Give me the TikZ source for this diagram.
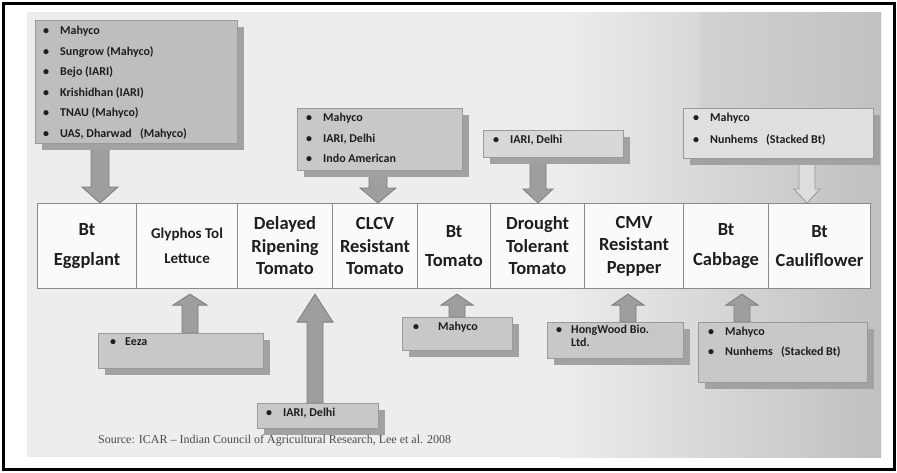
\documentclass[tikz,border=0pt]{standalone}
\usepackage{fontspec}
\setmainfont{Carlito}
\newfontfamily\srcfont{Liberation Serif}
\usetikzlibrary{shadows,calc}
\definecolor{panel}{HTML}{EDEDED}
\definecolor{boxfill}{HTML}{C8C8C8}
\definecolor{boxlight}{HTML}{D8D8D8}
\definecolor{boxedge}{HTML}{9A9A9A}
\definecolor{shadowc}{HTML}{A2A2A2}
\definecolor{cellfill}{HTML}{FAFAFA}
\definecolor{celledge}{HTML}{8A8A8A}
\definecolor{arrfill}{HTML}{9E9E9E}
\definecolor{arredge}{HTML}{7C7C7C}
\definecolor{txt}{HTML}{1E1E1E}
\pgfdeclarelayer{bg}
\pgfdeclarelayer{arr}
\pgfsetlayers{bg,arr,main}
\newcommand\itm{\makebox[17pt][l]{\textbullet}}
\tikzset{
  cellbox/.style={draw=celledge, line width=1.1pt, fill=cellfill, anchor=north west,
    minimum height=85pt, inner sep=0pt, align=center, text=txt,
    font=\bfseries\fontsize{18.5}{22.5}\selectfont},
  gbox/.style={draw=boxedge, line width=0.8pt, fill=boxfill, anchor=north west, inner sep=0pt,
    drop shadow={shadow xshift=7pt, shadow yshift=-7pt, fill=shadowc, opacity=1}},
  itemtext/.style={anchor=north west, inner sep=0pt, align=left, text=txt,
    font=\bfseries\fontsize{12}{20.5}\selectfont},
  arrowst/.style={fill=arrfill, draw=arredge, line width=0.8pt, line join=miter},
  dnarrow/.style n args={3}{to path={let \p1=(\tikztostart), \p2=(\tikztotarget) in
    (\x1-#1,\y1) -- (\x1-#1,\y2+#3) -- (\x1-#2,\y2+#3) -- (\x1,\y2) -- (\x1+#2,\y2+#3)
    -- (\x1+#1,\y2+#3) -- (\x1+#1,\y1) -- cycle}},
  uparrow/.style n args={3}{to path={let \p1=(\tikztostart), \p2=(\tikztotarget) in
    (\x1-#1,\y1) -- (\x1-#1,\y2-#3) -- (\x1-#2,\y2-#3) -- (\x1,\y2) -- (\x1+#2,\y2-#3)
    -- (\x1+#1,\y2-#3) -- (\x1+#1,\y1) -- cycle}},
}
\begin{document}
\begin{tikzpicture}[x=1pt,y=-1pt]
\useasboundingbox (0,0) rectangle (897,472);
\begin{pgfonlayer}{bg}
\fill[white] (0,0) rectangle (897,472);
\fill[panel] (27,12) rectangle (881,457);
\shade[left color=panel, right color=gray!50] (560,12) rectangle (881,457);
\shade[top color=gray!45, bottom color=gray!45, opacity=0.35] (700,12) rectangle (881,120);
\end{pgfonlayer}
\draw[line width=3pt] (3,3) rectangle (894,469);

% main row of cells
\node[cellbox, minimum width=99pt]  (c1) at (37,203)  {Bt\\[7pt]Eggplant};
\node[cellbox, minimum width=101pt, font=\bfseries\fontsize{15}{25}\selectfont] (c2) at (136,203) {Glyphos Tol\\Lettuce};
\node[cellbox, minimum width=95pt]  (c3) at (237,203) {Delayed\\Ripening\\Tomato};
\node[cellbox, minimum width=85pt]  (c4) at (332,203) {CLCV\\Resistant\\Tomato};
\node[cellbox, minimum width=73pt]  (c5) at (417,203) {Bt\\[7pt]Tomato};
\node[cellbox, minimum width=94pt]  (c6) at (490,203) {Drought\\Tolerant\\Tomato};
\node[cellbox, minimum width=99pt]  (c7) at (584,203) {CMV\\Resistant\\Pepper};
\node[cellbox, minimum width=85pt]  (c8) at (683,203) {Bt\\[7pt]Cabbage};
\node[cellbox, minimum width=102pt] (c9) at (768,203) {Bt\\[7pt]Cauliflower};

% developer boxes above
\node[gbox, minimum width=202pt, minimum height=123pt, fill=boxfill!95!black] (t1) at (35,20) {};
\node[itemtext] at ($(t1.north west)+(8,6)$) {\itm Mahyco\\\itm Sungrow (Mahyco)\\\itm Bejo (IARI)\\\itm Krishidhan (IARI)\\\itm TNAU (Mahyco)\\\itm UAS, Dharwad~~~(Mahyco)};
\node[gbox, minimum width=165pt, minimum height=62pt] (t2) at (297,108) {};
\node[itemtext] at ($(t2.north west)+(9,5)$) {\itm Mahyco\\\itm IARI, Delhi\\\itm Indo American};
\node[gbox, minimum width=140pt, minimum height=27pt, fill=boxlight] (t3) at (483,130) {};
\node[itemtext] at ($(t3.north west)+(10,5)$) {\itm IARI, Delhi};
\node[gbox, minimum width=190pt, minimum height=50pt, fill=boxlight!80!white] (t4) at (683,108) {};
\node[itemtext, font=\bfseries\fontsize{12}{22}\selectfont] at ($(t4.north west)+(10,5)$) {\itm Mahyco\\\itm Nunhems~~~(Stacked Bt)};

% developer boxes below
\node[gbox, minimum width=165pt, minimum height=35pt] (b1) at (98,333) {};
\node[itemtext] at ($(b1.north west)+(12,5)$) {\makebox[15pt][l]{\textbullet}Eeza};
\node[gbox, minimum width=121pt, minimum height=25pt] (b2) at (257,403) {};
\node[itemtext] at ($(b2.north west)+(9,5)$) {\itm IARI, Delhi};
\node[gbox, minimum width=110pt, minimum height=33pt] (b3) at (402,317) {};
\node[itemtext] at ($(b3.north west)+(11,5)$) {\makebox[25pt][l]{\textbullet}Mahyco};
\node[gbox, minimum width=136pt, minimum height=36pt] (b4) at (547,322) {};
\node[itemtext, font=\bfseries\fontsize{12}{13}\selectfont] at ($(b4.north west)+(9,3)$) {\makebox[15pt][l]{\textbullet}HongWood Bio.\\\hspace*{15pt}Ltd.};
\node[gbox, minimum width=169pt, minimum height=60pt] (b5) at (698,322) {};
\node[itemtext, font=\bfseries\fontsize{12}{20}\selectfont] at ($(b5.north west)+(10,5)$) {\itm Mahyco\\\itm Nunhems~~~(Stacked Bt)};

% arrow axes
\coordinate (ax1) at (100,0);
\coordinate (ax2) at (378,0);
\coordinate (ax3) at (538,0);
\coordinate (ax4) at (807,0);
\coordinate (ax5) at (190,0);
\coordinate (ax6) at (315,0);
\coordinate (ax7) at (457,0);
\coordinate (ax8) at (628,0);
\coordinate (ax9) at (742,0);

\begin{pgfonlayer}{arr}
\draw[arrowst, dnarrow={9pt}{18pt}{16pt}] (t1.south -| ax1) to (c1.north -| ax1);
\draw[arrowst, dnarrow={9pt}{18pt}{15pt}] (t2.south -| ax2) to (c4.north -| ax2);
\draw[arrowst, dnarrow={8pt}{15pt}{14pt}] (t3.south -| ax3) to (c6.north -| ax3);
\draw[arrowst, fill=panel!85!gray, draw=arredge!80, dnarrow={8pt}{13pt}{14pt}] (t4.south -| ax4) to (c9.north -| ax4);
\draw[arrowst, uparrow={8pt}{17pt}{11pt}] (b1.north -| ax5) to ($(c2.south -| ax5)+(0,5)$);
\draw[arrowst, uparrow={8pt}{18pt}{28pt}] (b2.north -| ax6) to ($(c3.south -| ax6)+(0,5)$);
\draw[arrowst, uparrow={8pt}{16pt}{11pt}] (b3.north -| ax7) to ($(c5.south -| ax7)+(0,5)$);
\draw[arrowst, uparrow={8pt}{16pt}{11pt}] (b4.north -| ax8) to ($(c7.south -| ax8)+(0,5)$);
\draw[arrowst, uparrow={8pt}{16pt}{11pt}] (b5.north -| ax9) to ($(c8.south -| ax9)+(0,5)$);
\end{pgfonlayer}

% source
\node[anchor=west, inner sep=0pt, text=txt!80, font=\srcfont\fontsize{12}{14}\selectfont] (src) at (98,441)
  {Source: ICAR – Indian Council of Agricultural Research, Lee et al. 2008};
\end{tikzpicture}
\end{document}
